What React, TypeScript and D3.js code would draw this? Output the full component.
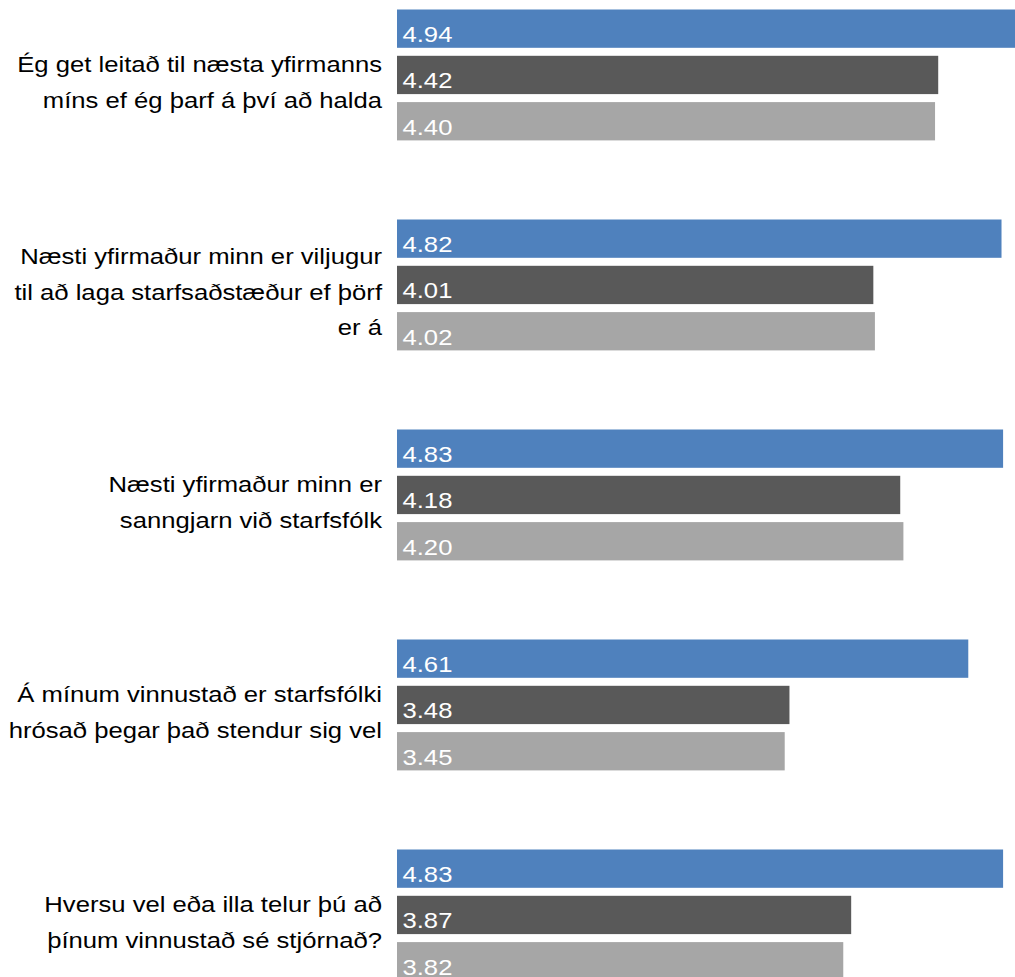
import * as d3 from 'd3'
import React from 'react'

const categories = [
    ['Ég get leitað til næsta yfirmanns', 'míns ef ég þarf á því að halda'],
    ['Næsti yfirmaður minn er viljugur', 'til að laga starfsaðstæður ef þörf', 'er á'],
    ['Næsti yfirmaður minn er', 'sanngjarn við starfsfólk'],
    ['Á mínum vinnustað er starfsfólki', 'hrósað þegar það stendur sig vel'],
    ['Hversu vel eða illa telur þú að', 'þínum vinnustað sé stjórnað?'],
]
const seriesNames = ['a', 'b', 'c']
const seriesA = [4.94, 4.82, 4.83, 4.61, 4.83]
const seriesB = [4.42, 4.01, 4.18, 3.48, 3.87]
const seriesC = [4.4, 4.02, 4.2, 3.45, 3.82]
const colors = ['#4f81bd', '#595959', '#a6a6a6']

const width = 1015
const height = 977
const font = '"Liberation Sans", Arial, sans-serif'

const App = (): JSX.Element => {
    const keys = categories.map((c) => c.join(' '))
    const values = [seriesA, seriesB, seriesC]

    const x = d3.scaleLinear().domain([1, 5]).range([397, 397 + 4 * 158.25])
    const y = d3.scaleBand().domain(keys).range([9.5, 9.5 + 5 * 210])
    const inner = d3
        .scaleBand()
        .domain(seriesNames)
        .range([0, 3 * 38.3 + 2 * 8])
        .paddingInner(8 / 46.3)

    return (
        <svg
            width={width}
            height={height}
            style={{ position: 'absolute', left: 0, top: 0, background: '#fff' }}
            fontFamily={font}
        >
            {keys.map((key, i) => {
                const top = y(key) as number
                const center = top + (3 * 38.3 + 16) / 2
                const lines = categories[i]
                return (
                    <g key={key}>
                        {seriesNames.map((s, j) => {
                            const by = top + (inner(s) as number)
                            const v = values[j][i]
                            return (
                                <g key={s}>
                                    <rect
                                        x={x(1)}
                                        y={by}
                                        width={x(v) - x(1)}
                                        height={inner.bandwidth()}
                                        fill={colors[j]}
                                    />
                                    <text
                                        transform={`translate(${x(1) + 5.5},${
                                            by + inner.bandwidth() - 5.8
                                        }) scale(1.15,1)`}
                                        fill="#fff"
                                        fontSize={22.3}
                                    >
                                        {v.toFixed(2)}
                                    </text>
                                </g>
                            )
                        })}
                        {lines.map((line, k) => (
                            <text
                                key={line}
                                transform={`translate(382,${
                                    center + 15 + (k - (lines.length - 1) / 2) * 35.5
                                }) scale(1.14,1)`}
                                textAnchor="end"
                                fontSize={22.5}
                                fill="#000"
                            >
                                {line}
                            </text>
                        ))}
                    </g>
                )
            })}
        </svg>
    )
}

export default App
